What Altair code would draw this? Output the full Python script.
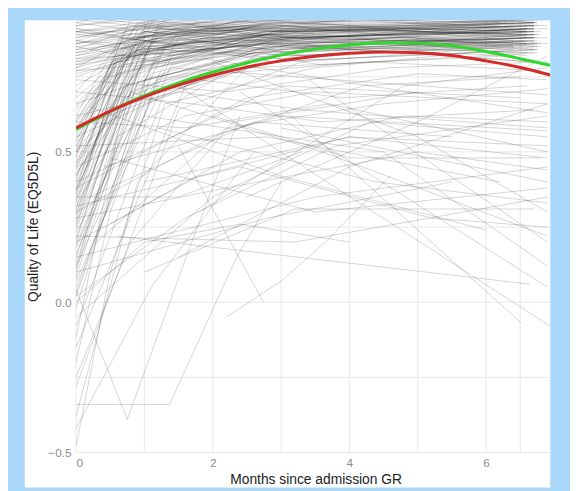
import altair as alt
import pandas as pd

# ---- smooth average curves ----
curve_months = [0, 0.5, 1, 1.5, 2, 2.5, 3, 3.5, 4, 4.5, 5, 5.5, 6, 6.5, 6.94]
green_values = [0.575, 0.635, 0.687, 0.730, 0.766, 0.796, 0.822, 0.842, 0.856, 0.863, 0.862, 0.853, 0.834, 0.810, 0.788]
red_values = [0.580, 0.636, 0.683, 0.722, 0.755, 0.782, 0.803, 0.818, 0.828, 0.832, 0.830, 0.821, 0.803, 0.781, 0.756]

# ---- individual patient trajectories: (month, EQ5D5L) ----
high_stable = [
    [(0, 0.92), (1.4, 0.95), (3.1, 0.97), (6.6, 0.98)],
    [(0, 0.85), (1.5, 0.90), (3.0, 0.93), (6.6, 0.95)],
    [(0, 0.80), (1.2, 0.88), (2.9, 0.91), (6.8, 0.89)],
    [(0, 0.89), (1.6, 0.86), (3.3, 0.90), (6.75, 0.93)],
    [(0, 0.76), (1.3, 0.84), (3.4, 0.88), (6.55, 0.90)],
    [(0, 0.94), (1.1, 0.97), (3.0, 1.00), (6.75, 1.00)],
    [(0, 0.83), (1.7, 0.92), (3.5, 0.89), (6.9, 0.91)],
    [(0, 0.87), (1.4, 0.82), (3.2, 0.88), (6.6, 0.86)],
    [(0, 0.78), (1.0, 0.90), (2.8, 0.94), (6.2, 0.92)],
    [(0, 0.90), (1.5, 0.93), (3.6, 0.85), (6.6, 0.88)],
    [(0, 0.82), (1.3, 0.87), (3.1, 0.92), (6.75, 0.84)],
    [(0, 0.86), (2.0, 0.91), (4.1, 0.94), (6.7, 0.90)],
    [(0, 0.95), (1.6, 0.91), (3.3, 0.96), (6.75, 0.94)],
    [(0, 0.79), (1.2, 0.83), (3.0, 0.86), (6.6, 0.80)],
    [(0, 0.91), (1.4, 0.88), (2.9, 0.84), (6.55, 0.87)],
    [(0.2, 0.84), (1.8, 0.93), (3.7, 0.95), (6.8, 0.96)],
    [(0, 0.88), (1.1, 0.92), (3.2, 0.90), (6.6, 0.82)],
    [(0, 0.77), (1.5, 0.80), (3.4, 0.85), (6.75, 0.88)],
    [(0, 0.93), (1.3, 0.99), (3.0, 0.96), (6.1, 0.99)],
    [(0, 0.81), (1.6, 0.89), (3.5, 0.93), (6.9, 0.86)],
    [(0, 0.84), (1.2, 0.94), (2.7, 0.97), (6.6, 0.95)],
    [(0, 0.90), (1.7, 0.85), (3.6, 0.79), (6.75, 0.83)],
    [(0, 0.75), (1.4, 0.86), (3.1, 0.82), (6.55, 0.85)],
    [(0, 0.87), (1.5, 0.96), (3.3, 0.93), (6.7, 0.97)],
    [(0.1, 0.96), (1.9, 0.94), (4.0, 0.98), (6.75, 0.97)],
    [(0, 0.86), (1.3, 0.91), (3.0, 0.89), (6.75, 0.92)],
    [(0, 0.80), (1.6, 0.85), (3.4, 0.91), (6.6, 0.89)],
    [(0, 0.91), (1.2, 0.86), (2.9, 0.93), (6.6, 0.90)],
    [(0, 0.83), (1.5, 0.88), (3.2, 0.83), (6.75, 0.87)],
    [(0, 0.88), (1.4, 0.94), (3.1, 0.91), (6.55, 0.94)],
    [(0, 0.78), (1.1, 0.85), (3.0, 0.89), (6.75, 0.86)],
    [(0, 0.94), (1.7, 0.90), (3.6, 0.92), (6.7, 0.88)],
    [(0, 0.85), (1.2, 0.80), (3.3, 0.86), (6.6, 0.91)],
    [(0, 0.90), (1.5, 0.95), (3.4, 0.98), (6.75, 0.93)],
    [(0, 0.82), (1.3, 0.90), (2.8, 0.87), (6.6, 0.92)],
    [(0, 0.87), (1.8, 0.84), (3.7, 0.88), (6.75, 0.85)],
    [(0, 0.93), (1.4, 0.89), (3.2, 0.94), (6.8, 0.96)],
    [(0, 0.79), (1.6, 0.91), (3.5, 0.95), (6.6, 0.91)],
    [(0, 0.84), (1.0, 0.87), (2.9, 0.80), (6.75, 0.84)],
    [(0, 0.89), (1.5, 0.92), (3.3, 0.88), (6.2, 0.90)],
    [(0, 0.81), (1.4, 0.83), (3.0, 0.90), (6.6, 0.94)],
    [(0, 0.92), (1.2, 0.96), (3.5, 0.91), (6.75, 0.89)],
    [(0, 0.77), (1.7, 0.87), (3.6, 0.84), (6.6, 0.88)],
    [(0, 0.86), (1.3, 0.93), (3.1, 0.96), (6.7, 0.93)],
    [(0, 0.90), (1.6, 0.87), (3.4, 0.82), (6.75, 0.86)],
]

fast_risers = [
    [(0, 0.55), (0.8, 0.88), (2.9, 0.92), (6.7, 0.94)],
    [(0, 0.42), (1.0, 0.84), (3.1, 0.90), (6.4, 0.91)],
    [(0, 0.30), (0.9, 0.80), (3.0, 0.88), (6.6, 0.90)],
    [(0, 0.62), (0.7, 0.90), (2.6, 0.95), (6.3, 0.93)],
    [(0, 0.18), (1.1, 0.78), (3.2, 0.86), (6.7, 0.88)],
    [(0, 0.48), (0.6, 0.86), (2.8, 0.89), (6.7, 0.92)],
    [(0, 0.05), (1.2, 0.74), (3.3, 0.84), (6.4, 0.87)],
    [(0, 0.36), (0.9, 0.91), (3.0, 0.96), (6.7, 0.98)],
    [(0, 0.58), (1.3, 0.93), (3.4, 0.90), (6.9, 0.94)],
    [(0, 0.25), (0.8, 0.83), (2.7, 0.87), (6.2, 0.85)],
    [(0, 0.66), (1.0, 0.87), (3.1, 0.93), (6.6, 0.89)],
    [(0, 0.12), (1.4, 0.82), (3.5, 0.91), (6.7, 0.93)],
    [(0, 0.44), (0.7, 0.79), (2.9, 0.85), (6.4, 0.82)],
    [(0, 0.52), (1.1, 0.95), (3.0, 0.97), (6.8, 0.99)],
    [(0, 0.33), (0.6, 0.76), (2.5, 0.88), (6.3, 0.90)],
    [(0, 0.70), (0.9, 0.92), (3.2, 0.88), (6.7, 0.91)],
    [(0, 0.21), (1.0, 0.87), (3.0, 0.94), (6.6, 0.96)],
    [(0, 0.46), (1.5, 0.90), (3.6, 0.87), (6.7, 0.84)],
    [(0, -0.08), (1.3, 0.70), (3.2, 0.82), (6.4, 0.86)],
    [(0, 0.60), (0.8, 0.82), (2.8, 0.86), (6.9, 0.88)],
    [(0, 0.38), (1.2, 0.89), (3.3, 0.85), (6.7, 0.90)],
    [(0, 0.28), (0.7, 0.72), (2.6, 0.83), (6.3, 0.87)],
    [(0, 0.50), (1.0, 0.80), (3.1, 0.91), (6.7, 0.93)],
    [(0, 0.15), (0.9, 0.76), (2.9, 0.90), (6.7, 0.92)],
    [(0, 0.68), (1.4, 0.96), (3.5, 0.94), (6.6, 0.97)],
    [(0, 0.40), (1.1, 0.93), (3.2, 0.99), (6.4, 0.97)],
    [(0, 0.02), (1.0, 0.66), (2.8, 0.80), (6.7, 0.84)],
    [(0, 0.56), (0.7, 0.85), (3.0, 0.81), (6.8, 0.86)],
    [(0, 0.32), (1.3, 0.86), (3.4, 0.89), (6.2, 0.93)],
    [(0, 0.47), (0.9, 0.77), (2.7, 0.86), (6.7, 0.80)],
    [(0, 0.10), (0.8, 0.70), (3.0, 0.87), (6.6, 0.89)],
    [(0, 0.64), (1.2, 0.91), (3.1, 0.87), (6.4, 0.92)],
    [(0, 0.23), (1.5, 0.88), (3.6, 0.93), (6.7, 0.95)],
    [(0, 0.53), (0.8, 0.94), (2.9, 0.91), (6.7, 0.88)],
    [(0, -0.15), (1.6, 0.72), (3.4, 0.85), (6.7, 0.83)],
    [(0, 0.35), (0.7, 0.81), (2.8, 0.93), (6.3, 0.96)],
    [(0, 0.72), (1.3, 0.89), (3.2, 0.95), (6.9, 0.92)],
    [(0, 0.43), (1.0, 0.74), (3.0, 0.84), (6.7, 0.89)],
    [(0, 0.19), (1.2, 0.84), (3.3, 0.82), (6.6, 0.87)],
    [(0, 0.59), (1.1, 0.86), (2.9, 0.97), (6.4, 0.95)],
    [(0, 0.27), (0.9, 0.85), (3.1, 0.88), (6.7, 0.91)],
    [(0, 0.07), (1.4, 0.79), (3.5, 0.90), (6.8, 0.85)],
    [(0, 0.49), (0.6, 0.82), (2.6, 0.90), (6.7, 0.94)],
    [(0, -0.28), (1.5, 0.64), (3.3, 0.80), (6.4, 0.85)],
    [(0, 0.37), (1.0, 0.90), (3.0, 0.86), (6.6, 0.83)],
    [(0, -0.20), (0.5, 0.30), (1.2, 0.75), (3.0, 0.85), (6.7, 0.88)],
    [(0, -0.38), (0.9, 0.40), (2.5, 0.78), (6.4, 0.82)],
    [(0, -0.12), (0.6, 0.55), (2.7, 0.83), (6.6, 0.86)],
    [(0, -0.48), (0.5, 0.10), (1.3, 0.66), (3.5, 0.78), (6.7, 0.85)],
    [(0, 0.31), (0.7, 0.84), (2.8, 0.90), (6.7, 0.92)],
    [(0, 0.45), (0.9, 0.88), (3.0, 0.92), (6.4, 0.89)],
    [(0, 0.13), (1.0, 0.80), (3.1, 0.86), (6.6, 0.91)],
    [(0, 0.57), (0.6, 0.83), (2.7, 0.89), (6.7, 0.87)],
    [(0, 0.26), (1.2, 0.92), (3.2, 0.94), (6.3, 0.96)],
    [(0, 0.39), (0.8, 0.78), (2.9, 0.88), (6.7, 0.90)],
    [(0, 0.61), (1.0, 0.91), (3.0, 0.90), (6.7, 0.93)],
    [(0, 0.08), (0.9, 0.73), (2.8, 0.85), (6.4, 0.88)],
    [(0, 0.51), (0.7, 0.89), (3.1, 0.93), (6.7, 0.91)],
    [(0, 0.34), (1.1, 0.86), (3.3, 0.91), (6.6, 0.86)],
    [(0, 0.20), (0.8, 0.77), (2.6, 0.89), (6.7, 0.93)],
    [(0, 0.65), (0.9, 0.84), (3.0, 0.88), (6.4, 0.85)],
    [(0, 0.41), (0.6, 0.80), (2.7, 0.86), (6.7, 0.90)],
    [(0, 0.16), (1.3, 0.85), (3.4, 0.92), (6.8, 0.90)],
    [(0, 0.54), (1.0, 0.90), (3.2, 0.86), (6.7, 0.89)],
    [(0, 0.29), (0.7, 0.79), (2.9, 0.91), (6.3, 0.94)],
    [(0, 0.03), (1.1, 0.76), (3.0, 0.88), (6.7, 0.86)],
    [(0, 0.46), (0.8, 0.87), (2.8, 0.95), (6.6, 0.97)],
    [(0, 0.24), (1.0, 0.82), (3.1, 0.87), (6.4, 0.84)],
    [(0, 0.37), (0.5, 0.75), (2.5, 0.87), (6.7, 0.91)],
    [(0, 0.60), (0.9, 0.93), (3.3, 0.90), (6.7, 0.92)],
    [(0, 0.11), (0.7, 0.68), (2.7, 0.84), (6.7, 0.89)],
    [(0, 0.42), (1.2, 0.90), (3.5, 0.88), (6.4, 0.93)],
    [(0, -0.02), (1.0, 0.72), (3.0, 0.83), (6.7, 0.87)],
    [(0, 0.50), (0.6, 0.81), (2.6, 0.92), (6.6, 0.90)],
]

middle_paths = [
    [(0, 0.45), (1.6, 0.62), (3.5, 0.70), (6.9, 0.66)],
    [(0, 0.30), (2.0, 0.55), (4.2, 0.72), (6.5, 0.75)],
    [(0, 0.62), (1.5, 0.70), (3.3, 0.64), (6.9, 0.58)],
    [(0.3, 0.20), (2.2, 0.58), (4.5, 0.66), (6.9, 0.71)],
    [(0, 0.55), (1.8, 0.74), (3.9, 0.68), (6.6, 0.72)],
    [(0, 0.38), (2.5, 0.68), (5.0, 0.76), (6.9, 0.74)],
    [(0, 0.70), (1.7, 0.66), (3.6, 0.60), (6.7, 0.64)],
    [(0, 0.50), (1.4, 0.78), (3.8, 0.74), (6.9, 0.69)],
    [(0.5, 0.26), (2.4, 0.50), (4.8, 0.62), (6.9, 0.60)],
    [(0, 0.58), (2.1, 0.76), (4.3, 0.80), (6.8, 0.77)],
    [(0, 0.66), (1.9, 0.81), (4.0, 0.73), (6.9, 0.63)],
    [(0, 0.40), (3.0, 0.72), (6.5, 0.68)],
    [(0, 0.74), (2.2, 0.70), (4.6, 0.78), (6.9, 0.80)],
    [(0.2, 0.35), (2.6, 0.60), (5.5, 0.55)],
    [(0, 0.60), (1.6, 0.58), (3.7, 0.66), (6.9, 0.50)],
    [(1.0, 0.40), (4.0, 0.55), (6.9, 0.48)],
    [(0.5, 0.48), (3.5, 0.30), (6.9, 0.38)],
    [(2.5, 0.35), (5.0, 0.60), (6.9, 0.82)],
    [(0.2, 0.65), (3.0, 0.42), (6.0, 0.24)],
    [(1.8, 0.30), (4.8, 0.72), (6.9, 0.78)],
    [(0, 0.32), (2.4, 0.45), (5.2, 0.28), (6.9, 0.25)],
    [(3.0, 0.58), (6.9, 0.40)],
    [(1.2, 0.58), (4.4, 0.40), (6.9, 0.33)],
    [(0, 0.35), (1.5, 0.35), (3.3, 0.50)],
    [(2.0, 0.62), (4.0, 0.48), (6.8, 0.48)],
    [(1.0, 0.10), (3.2, 0.31), (6.7, 0.31)],
    [(0, 0.20), (1.8, 0.42), (4.0, 0.55), (6.9, 0.52)],
    [(0.4, 0.45), (3.0, 0.62), (6.9, 0.57)],
    [(0, 0.28), (2.2, 0.38), (5.0, 0.50), (6.9, 0.44)],
    [(1.5, 0.15), (4.0, 0.45), (6.9, 0.66)],
    [(0, 0.52), (2.8, 0.55), (6.2, 0.40)],
    [(0.8, 0.70), (3.6, 0.50), (6.9, 0.22)],
]

decliners = [
    [(3.0, 0.65), (6.52, -0.07)],
    [(1.5, 0.72), (6.94, -0.08)],
    [(2.4, 0.70), (6.9, 0.05)],
    [(3.4, 0.74), (6.9, 0.20)],
    [(1.0, 0.62), (4.5, 0.50), (6.9, 0.12)],
    [(2.0, 0.80), (5.0, 0.55), (6.9, 0.30)],
    [(0.6, 0.22), (6.64, 0.06)],
]

low_paths = [
    [(0, -0.34), (1.37, -0.34), (2.35, 0.15), (3.0, 0.40)],
    [(0, 0.04), (0.75, -0.39), (1.66, 0.18), (2.4, 0.62)],
    [(0, -0.42), (1.1, 0.05), (2.6, 0.50)],
    [(2.2, -0.05), (3.0, 0.07), (3.65, 0.20), (4.6, 0.42)],
    [(1.5, 0.52), (2.74, 0.00)],
    [(0, -0.05), (2.0, 0.35), (4.3, 0.60), (6.9, 0.55)],
    [(0, 0.10), (2.8, 0.28), (5.5, 0.40)],
    [(0, 0.15), (1.2, 0.22), (3.5, 0.35), (6.9, 0.45)],
    [(0, 0.00), (1.0, 0.20), (2.4, 0.26), (4.0, 0.20)],
    [(0, 0.02), (1.6, 0.28), (3.8, 0.52), (6.9, 0.62)],
    [(0, 0.22), (3.2, 0.20), (6.9, 0.35)],
    [(0, -0.25), (0.8, 0.20), (2.3, 0.60), (5.0, 0.70)],
]

groups = [high_stable, fast_risers, middle_paths, decliners, low_paths]

rows = []
pid = 0
for group in groups:
    for traj in group:
        for k, (m, v) in enumerate(traj):
            rows.append({"id": pid, "order": k, "month": m, "qol": v})
        pid += 1
traj_df = pd.DataFrame(rows)

curve_rows = []
for name, vals in (("green", green_values), ("red", red_values)):
    for k, (m, v) in enumerate(zip(curve_months, vals)):
        curve_rows.append({"curve": name, "order": k, "month": m, "qol": v})
curve_df = pd.DataFrame(curve_rows)

x_major = [0, 2, 4, 6]
x_grid = [0, 1, 2, 3, 4, 5, 6, 6.5]
y_major = [-0.5, 0.0, 0.5]
y_grid = [-0.5, -0.25, 0.0, 0.25, 0.5, 0.75]

X_DOMAIN = [0, 6.94]
Y_DOMAIN = [-0.502, 0.938]

xs = alt.Scale(domain=X_DOMAIN, nice=False, zero=False)
ys = alt.Scale(domain=Y_DOMAIN, nice=False, zero=False)

panel = alt.Chart(pd.DataFrame({"a": [0]})).mark_rect(color="white", clip=False).encode(
    x=alt.value(-52), x2=alt.value(481), y=alt.value(0), y2=alt.value(474)
)

vgrid = alt.Chart(pd.DataFrame({"month": x_grid})).mark_rule(color="#e9e9e9", strokeWidth=1).encode(
    x=alt.X("month:Q", scale=xs)
)
hgrid = alt.Chart(pd.DataFrame({"qol": y_grid})).mark_rule(color="#e9e9e9", strokeWidth=1).encode(
    y=alt.Y("qol:Q", scale=ys)
)

lines = alt.Chart(traj_df).mark_line(color="black", opacity=0.2, strokeWidth=0.85, clip=True).encode(
    x=alt.X(
        "month:Q",
        scale=xs,
        axis=alt.Axis(
            values=x_major, title="Months since admission GR", grid=False, domain=False, ticks=False,
            format="d",
            labelColor="#8c8c8c", labelFontSize=12, labelPadding=5, labelFont="Liberation Sans",
            titleFont="Liberation Sans", titleFontSize=14, titleFontWeight="normal", titleColor="#222222",
            titleY=31, titleX=243, titleBaseline="alphabetic", zindex=1,
        ),
    ),
    y=alt.Y(
        "qol:Q",
        scale=ys,
        axis=alt.Axis(
            values=y_major, title="Quality of Life (EQ5D5L)", grid=False, domain=False, ticks=False,
            labelColor="#8c8c8c", labelFontSize=12, labelPadding=5, labelFont="Liberation Sans",
            format=".1f",
            titleFont="Liberation Sans", titleFontSize=14, titleFontWeight="normal", titleColor="#222222",
            titleX=-43, titleY=209, titleBaseline="middle", titleAngle=270, zindex=1,
        ),
    ),
    detail="id:N",
    order="order:Q",
)

curves = alt.Chart(curve_df).mark_line(strokeWidth=3, interpolate="monotone", clip=True).encode(
    x=alt.X("month:Q", scale=xs),
    y=alt.Y("qol:Q", scale=ys),
    color=alt.Color("curve:N", scale=alt.Scale(domain=["green", "red"], range=["#2fd82a", "#d42a2a"]), legend=None),
    order="order:Q",
)

chart = alt.layer(panel, vgrid, hgrid, lines, curves).properties(
    width=481,
    height=439,
    autosize=alt.AutoSizeParams(type="none"),
    padding={"left": 69, "top": 9, "right": 20, "bottom": 35},
    background="#a9d8fb",
).configure_view(stroke=None)

chart.save("out.html", embed_options={"renderer": "svg", "actions": False})
